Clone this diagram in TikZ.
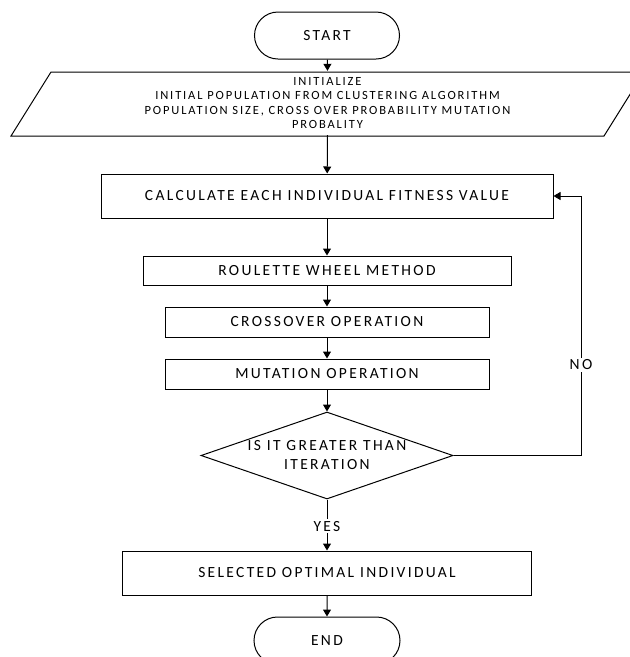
\documentclass[tikz,border=0pt]{standalone}
\usepackage{fontspec}
\setmainfont{Carlito}[LetterSpace=15]
\usetikzlibrary{shapes.misc,shapes.geometric,arrows.meta}
\begin{document}
\begin{tikzpicture}[x=1pt,y=-1pt,
  every node/.style={font=\fontsize{15.5}{19}\selectfont},
  box/.style={draw, line width=1pt, rectangle, inner sep=0pt},
  term/.style={draw, line width=1pt, rounded rectangle, inner sep=0pt},
  arr/.style={line width=1pt, -{Triangle[length=7pt,width=8pt]}},
  ln/.style={line width=1pt}]
\useasboundingbox (0,0) rectangle (630,657);
\node[term, minimum width=145pt, minimum height=47pt] (start) at (327,35.5) {START};
\node[inner sep=0pt, minimum width=593pt, minimum height=64pt, align=center,
  font=\fontsize{12.5}{14.2}\selectfont] (init) at (327.5,103)
  {INITIALIZE\\INITIAL POPULATION FROM CLUSTERING ALGORITHM\\POPULATION SIZE, CROSS OVER PROBABILITY MUTATION\\PROBALITY};
\draw[ln] (51,72) -- (644,72) -- (604,136) -- (11,136) -- cycle;
\node[box, minimum width=452pt, minimum height=44pt] (calc) at (327,196) {CALCULATE EACH INDIVIDUAL FITNESS VALUE};
\node[box, minimum width=368pt, minimum height=29pt] (roul) at (327,270.5) {ROULETTE WHEEL METHOD};
\node[box, minimum width=324pt, minimum height=30pt] (cross) at (327,322) {CROSSOVER OPERATION};
\node[box, minimum width=324pt, minimum height=30pt] (mut) at (327,374) {MUTATION OPERATION};
\node[diamond, draw, line width=1pt, aspect=2.9, minimum width=252pt, minimum height=87pt, inner sep=0pt, align=center] (dec) at (327,455.5) {IS IT GREATER THAN\\ITERATION};
\node[box, minimum width=409pt, minimum height=44pt] (sel) at (327,573) {SELECTED OPTIMAL INDIVIDUAL};
\node[term, minimum width=146pt, minimum height=47pt] (end) at (327,640.5) {END};
\coordinate (c1) at (581,455.5);
\coordinate (c2) at (581,196);
\draw[arr] (start) -- (init.north);
\draw[arr] (init.south) -- (calc);
\draw[arr] (calc) -- (roul);
\draw[arr] (roul) -- (cross);
\draw[arr] (cross) -- (mut);
\draw[arr] (mut) -- (dec.north);
\draw[arr] (dec.south) -- node[fill=white, inner sep=2pt, pos=0.52] {YES} (sel);
\draw[arr] (dec.east) -- (c1) -- node[fill=white, inner sep=2pt, pos=0.35] {NO} (c2) -- (calc.east);
\draw[arr] (sel) -- (end);
\end{tikzpicture}
\end{document}
